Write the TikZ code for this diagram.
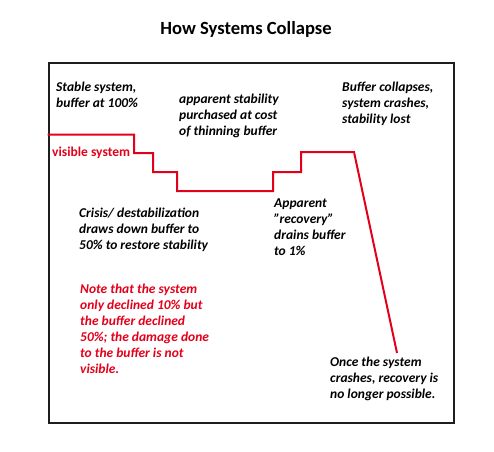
\documentclass[tikz,border=0pt]{standalone}
\usepackage{fontspec}
\setmainfont{Carlito}
\definecolor{vred}{RGB}{226,0,26}
\definecolor{frame}{RGB}{30,30,30}
\begin{document}
\begin{tikzpicture}[x=1pt,y=-1pt,
  lbl/.style={anchor=base west,inner sep=0pt,align=left,font=\fontsize{13.5}{16}\selectfont\bfseries\itshape},
  redlbl/.style={lbl,text=vred},
  sysline/.style={draw=vred,line width=2pt,line join=miter}]
\useasboundingbox (0,0) rectangle (494,451);
\node[anchor=base,inner sep=0pt,font=\fontsize{18.6}{20}\selectfont\bfseries] (title) at (246,34) {How Systems Collapse};
\node[draw=frame,line width=2pt,minimum width=405pt,minimum height=360pt,inner sep=0pt,anchor=north west] (frame) at (47.5,62) {};
\coordinate (p0) at (frame.west |- 0,134.5);
\coordinate (p1) at (134,134.5);
\coordinate (p2) at (134,153);
\coordinate (p3) at (153,153);
\coordinate (p4) at (153,172);
\coordinate (p5) at (177,172);
\coordinate (p6) at (177,191);
\coordinate (p7) at (273,191);
\coordinate (p8) at (273,172);
\coordinate (p9) at (301,172);
\coordinate (p10) at (301,152);
\coordinate (p11) at (354,152);
\coordinate (p12) at (397,353);
\draw[sysline] (p0) -- (p1) -- (p2) -- (p3) -- (p4) -- (p5) -- (p6) -- (p7) -- (p8) -- (p9) -- (p10) -- (p11) -- (p12);
\node[anchor=base west,inner sep=0pt,text=vred,font=\fontsize{13.5}{16}\selectfont\bfseries] (vis) at (52,156) {visible system};
% anchors are on the baseline of the last line
\node[lbl] (stable) at (56,107.5) {Stable system,\\buffer at 100\%};
\node[lbl] (appstab) at (179,135) {apparent stability\\purchased at cost\\of thinning buffer};
\node[lbl] (bufcol) at (342,123.5) {Buffer collapses,\\system crashes,\\stability lost};
\node[lbl] (crisis) at (79,249) {Crisis/ destabilization\\draws down buffer to\\50\% to restore stability};
\node[lbl] (recov) at (274,255) {Apparent\\\symbol{34}recovery\symbol{34}\\drains buffer\\to 1\%};
\node[redlbl] (note) at (80,373) {Note that the system\\only declined 10\% but\\the buffer declined\\50\%; the damage done\\to the buffer is not\\visible.};
\node[lbl] (once) at (330,398) {Once the system\\crashes, recovery is\\no longer possible.};
\end{tikzpicture}
\end{document}
